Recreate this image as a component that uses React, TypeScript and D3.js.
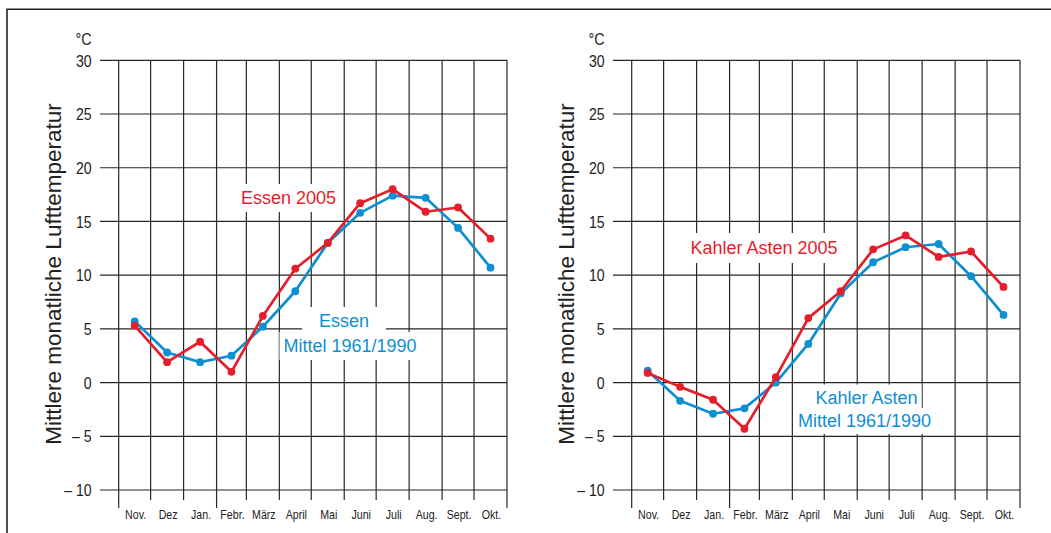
import React, { useEffect, useRef } from "react";
import * as d3 from "d3";

const months = ["Nov.", "Dez", "Jan.", "Febr.", "März", "April", "Mai", "Juni", "Juli", "Aug.", "Sept.", "Okt."];
const monthDays = [30, 31, 31, 28, 31, 30, 31, 30, 31, 31, 30, 31];
const yTicks = [30, 25, 20, 15, 10, 5, 0, -5, -10];
const yTickLabels = ["30", "25", "20", "15", "10", "5", "0", "– 5", "– 10"];

const essen2005 = [5.3, 1.9, 3.8, 1.0, 6.2, 10.6, 13.0, 16.7, 18.0, 15.9, 16.3, 13.4];
const essenMittel = [5.7, 2.8, 1.9, 2.5, 5.2, 8.5, 13.0, 15.8, 17.4, 17.2, 14.4, 10.7];
const kahler2005 = [0.9, -0.4, -1.6, -4.3, 0.5, 6.0, 8.5, 12.4, 13.7, 11.7, 12.2, 8.9];
const kahlerMittel = [1.1, -1.7, -2.9, -2.4, 0.0, 3.6, 8.3, 11.2, 12.6, 12.9, 9.9, 6.3];

const yTitle = "Mittlere monatliche Lufttemperatur";
const unitLabel = "°C";

const RED = "#e41e2b";
const BLUE = "#0e8fd2";
const GRID = "#262626";
const FONT = "'Liberation Sans', Arial, Helvetica, sans-serif";

type Label = { lines: string[]; cx: number[]; base: number[]; color: string; padX: number[]; padY: number };

const panels = [
  {
    dx: 0,
    red: essen2005,
    blue: essenMittel,
    labels: [
      { lines: ["Essen 2005"], cx: [288.5], base: [204], color: RED, padX: [4], padY: 4 },
      { lines: ["Essen", "Mittel 1961/1990"], cx: [344, 350], base: [327, 352], color: BLUE, padX: [17, 4], padY: 4 },
    ] as Label[],
  },
  {
    dx: 513,
    red: kahler2005,
    blue: kahlerMittel,
    labels: [
      { lines: ["Kahler Asten 2005"], cx: [764], base: [254], color: RED, padX: [5], padY: 5 },
      { lines: ["Kahler Asten", "Mittel 1961/1990"], cx: [866.5, 864.5], base: [403.5, 427], color: BLUE, padX: [4, 4], padY: 3 },
    ] as Label[],
  },
];

export default function App() {
  const ref = useRef<SVGSVGElement | null>(null);

  useEffect(() => {
    const svg = d3.select(ref.current);
    svg.selectAll("*").remove();

    // frame
    svg.append("path").attr("d", "M7,533 V9.3 H1051").attr("fill", "none").attr("stroke", "#222").attr("stroke-width", 1.6);

    const cum = [0];
    monthDays.forEach((d, i) => cum.push(cum[i] + d));
    const total = cum[cum.length - 1];

    panels.forEach((p) => {
      const x = d3.scaleLinear().domain([0, total]).range([118.7 + p.dx, 507 + p.dx]);
      const y = d3.scaleLinear().domain([-10, 30]).range([490, 60.3]);
      const g = svg.append("g");

      // horizontal grid
      g.selectAll("line.h")
        .data(yTicks)
        .enter()
        .append("line")
        .attr("x1", 100 + p.dx)
        .attr("x2", x(total))
        .attr("y1", (d) => y(d))
        .attr("y2", (d) => y(d))
        .attr("stroke", GRID)
        .attr("stroke-width", 1.2);

      // vertical grid
      g.selectAll("line.v")
        .data(cum)
        .enter()
        .append("line")
        .attr("x1", (d) => x(d))
        .attr("x2", (d) => x(d))
        .attr("y1", y(30))
        .attr("y2", (d, i) => (i === 0 || i === 3 || i === cum.length - 1 ? 508 : 500))
        .attr("stroke", GRID)
        .attr("stroke-width", 1.2);

      // y tick labels
      yTicks.forEach((t, i) => {
        g.append("text")
          .attr("transform", `translate(${91.7 + p.dx},${y(t) + 6.2}) scale(0.88,1)`)
          .attr("text-anchor", "end")
          .attr("font-family", FONT)
          .attr("font-size", 16)
          .attr("fill", "#222")
          .text(yTickLabels[i]);
      });
      g.append("text")
        .attr("transform", `translate(${91.7 + p.dx},45) scale(0.9,1)`)
        .attr("text-anchor", "end")
        .attr("font-family", FONT)
        .attr("font-size", 16)
        .attr("fill", "#222")
        .text(unitLabel);

      // month labels
      months.forEach((m, i) => {
        const cx = x((cum[i] + cum[i + 1]) / 2) + 1;
        g.append("text")
          .attr("transform", `translate(${cx},519) scale(0.82,1)`)
          .attr("text-anchor", "middle")
          .attr("font-family", FONT)
          .attr("font-size", 13)
          .attr("fill", "#222")
          .text(m);
      });

      // y title
      g.append("text")
        .attr("transform", `translate(${61 + p.dx},274) rotate(-90)`)
        .attr("text-anchor", "middle")
        .attr("font-family", FONT)
        .attr("font-size", 22.5)
        .attr("fill", "#222")
        .text(yTitle);

      // labels with white boxes
      p.labels.forEach((lab) => {
        const texts = lab.lines.map((line, i) =>
          g.append("text")
            .attr("x", lab.cx[i])
            .attr("y", lab.base[i])
            .attr("text-anchor", "middle")
            .attr("font-family", FONT)
            .attr("font-size", 18)
            .attr("fill", lab.color)
            .text(line)
        );
        texts.forEach((t, i) => {
          const bb = (t.node() as SVGTextElement).getBBox();
          g.insert("rect", () => t.node() as any)
            .attr("x", bb.x - lab.padX[i])
            .attr("y", bb.y - lab.padY)
            .attr("width", bb.width + 2 * lab.padX[i])
            .attr("height", bb.height + 2 * lab.padY)
            .attr("fill", "#fff");
        });
      });

      // series
      const series = [
        { vals: p.blue, color: BLUE },
        { vals: p.red, color: RED },
      ];
      series.forEach((s) => {
        const pts: [number, number][] = s.vals.map((v, i) => [x((cum[i] + cum[i + 1]) / 2), y(v)]);
        g.append("path")
          .attr("d", d3.line()(pts) as string)
          .attr("fill", "none")
          .attr("stroke", s.color)
          .attr("stroke-width", 2.7)
          .attr("stroke-linejoin", "round");
        g.selectAll(null)
          .data(pts)
          .enter()
          .append("circle")
          .attr("cx", (d) => d[0])
          .attr("cy", (d) => d[1])
          .attr("r", 3.9)
          .attr("fill", s.color);
      });
    });
  }, []);

  return (
    <svg
      ref={ref}
      width={1051}
      height={533}
      style={{ position: "absolute", left: 0, top: 0, display: "block", background: "#fff" }}
    />
  );
}
